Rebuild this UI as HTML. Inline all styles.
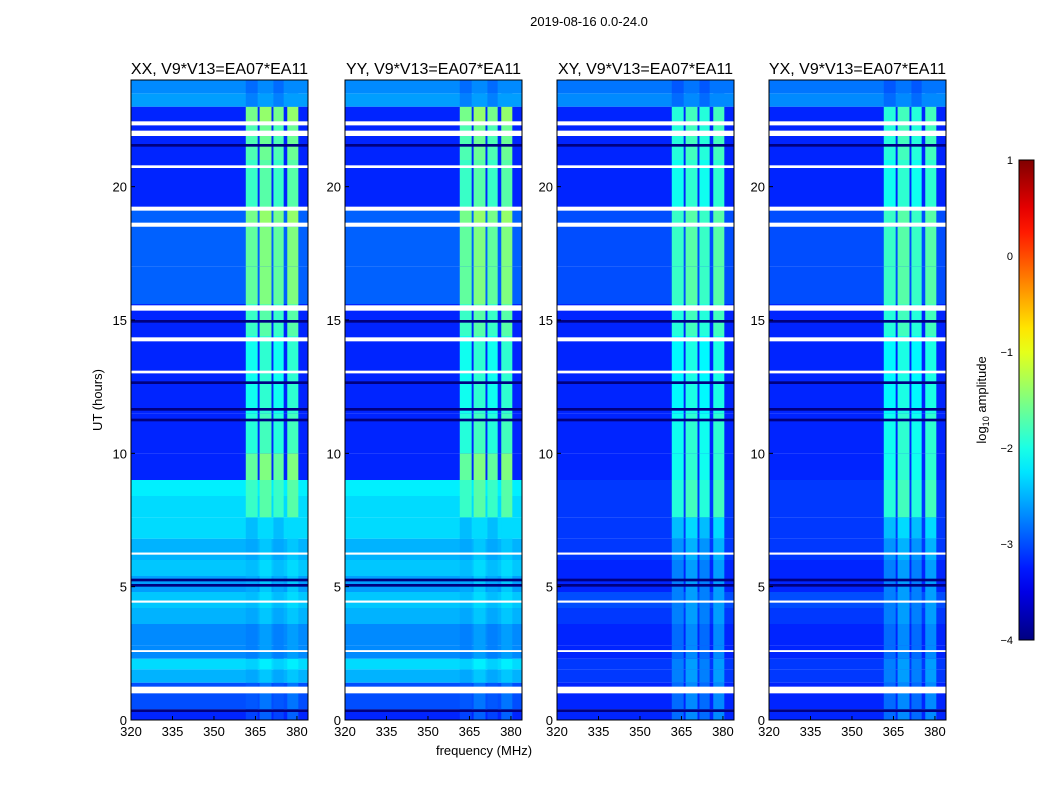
<!DOCTYPE html>
<html><head><meta charset="utf-8"><style>
body{margin:0;background:#fff;font-family:"Liberation Sans",sans-serif}
svg text{font-family:"Liberation Sans",sans-serif}
</style></head><body>
<svg id="c" width="1050" height="800" xmlns="http://www.w3.org/2000/svg">
<text x="589" y="26" font-size="13" text-anchor="middle">2019-08-16 0.0-24.0</text>
<text x="484" y="755" font-size="13" text-anchor="middle">frequency (MHz)</text>
<text transform="translate(102,400) rotate(-90)" font-size="13" text-anchor="middle">UT (hours)</text>
</svg>
<script>
// time segments (hours) and log10 amplitudes
const segStart = [0, 0.4, 1.4, 1.9, 2.3, 2.8, 3.6, 4.2, 4.8, 5.4, 6.0, 6.8, 7.6, 8.4, 9.0, 10.0, 11.5, 13.0, 14.4, 15.6, 17.0, 18.5, 19.2, 21.0, 22.3, 23.0, 23.5];
const segEnd   = [0.4, 1.4, 1.9, 2.3, 2.8, 3.6, 4.2, 4.8, 5.4, 6.0, 6.8, 7.6, 8.4, 9.0, 10.0, 11.5, 13.0, 14.4, 15.6, 17.0, 18.5, 19.2, 21.0, 22.3, 23.0, 23.5, 24.0];
const parBase  = [-3.2, -3.0, -2.5, -2.3, -2.7, -2.7, -2.5, -2.4, -2.6, -2.4, -2.5, -2.3, -2.3, -2.2, -3.2, -3.2, -3.2, -3.2, -3.2, -2.9, -2.9, -2.9, -3.2, -3.2, -3.2, -2.6, -2.7];
const crossBase= [-3.2, -3.2, -3.1, -3.1, -3.2, -3.2, -3.1, -3.0, -3.2, -3.2, -3.1, -3.1, -3.1, -3.1, -3.2, -3.2, -3.2, -3.2, -3.2, -3.0, -3.0, -3.0, -3.2, -3.2, -3.2, -2.7, -2.8];
const rfiPar   = [-2.9, -2.8, -2.4, -2.2, -2.6, -2.6, -2.4, -2.3, -2.4, -2.3, -2.4, -2.3, -1.7, -1.7, -1.5, -1.8, -1.9, -1.9, -1.7, -1.5, -1.5, -1.4, -1.7, -1.6, -1.4, -2.6, -2.7];
const rfiCross = [-2.7, -2.7, -2.6, -2.6, -2.7, -2.7, -2.6, -2.6, -2.6, -2.6, -2.5, -2.3, -1.8, -1.8, -1.9, -1.9, -2.0, -2.0, -1.8, -1.7, -1.7, -1.7, -1.9, -1.8, -1.8, -2.7, -2.8];
// flagged (white) time ranges
const flagStart = [1.0, 2.55, 4.4, 6.2, 13.0, 14.2, 15.35, 18.5, 19.1, 20.7, 21.9, 22.3];
const flagEnd   = [1.25, 2.62, 4.48, 6.28, 13.1, 14.35, 15.55, 18.65, 19.25, 20.8, 22.1, 22.45];
// dark (zero-ish) flagged rows
const darkStart = [0.3, 5.0, 5.2, 11.2, 11.6, 12.6, 14.9, 21.5];
const darkEnd   = [0.4, 5.1, 5.3, 11.3, 11.7, 12.7, 15.0, 21.6];
// RFI sub-band frequency ranges (MHz)
const bandLo = [361.5, 366.5, 371.5, 376.5];
const bandHi = [365.8, 370.8, 375.2, 380.5];
const titles = ["XX, V9*V13=EA07*EA11","YY, V9*V13=EA07*EA11","XY, V9*V13=EA07*EA11","YX, V9*V13=EA07*EA11"];
const xTicks = [320, 335, 350, 365, 380];
const yTicks = [0, 5, 10, 15, 20];
const cbTicks = [1, 0, -1, -2, -3, -4];

const NS="http://www.w3.org/2000/svg", svg=document.getElementById('c');
const panelL=[131,345,557,769], PW=177, PT=80, PB=720;
function jet(v){ // v in [-4,1]
  let t=Math.max(0,Math.min(1,(v+4)/5));
  const r=Math.max(0,Math.min(1,1.5-Math.abs(4*t-3))),g=Math.max(0,Math.min(1,1.5-Math.abs(4*t-2))),b=Math.max(0,Math.min(1,1.5-Math.abs(4*t-1)));
  return `rgb(${Math.round(r*255)},${Math.round(g*255)},${Math.round(b*255)})`;}
function el(t,a,p){const e=document.createElementNS(NS,t);for(const k in a)e.setAttribute(k,a[k]);(p||svg).appendChild(e);return e;}
const yS=h=>PB-(h/24)*(PB-PT);
for(let p=0;p<4;p++){
  const L=panelL[p], xS=f=>L+(f-320)*(PW/64);
  const g=el('g',{});
  
  
  const base=p<2?parBase:crossBase, rfi=p<2?rfiPar:rfiCross;
  for(let i=0;i<segStart.length;i++){
    const r=el('rect',{x:L,y:yS(segEnd[i]),width:PW,height:yS(segStart[i])-yS(segEnd[i]),fill:jet(base[i])},g);
    
    
    for(let b=0;b<bandLo.length;b++){
      const c=el('rect',{x:xS(bandLo[b]),y:yS(segEnd[i]),width:xS(bandHi[b])-xS(bandLo[b]),height:yS(segStart[i])-yS(segEnd[i]),fill:jet(rfi[i]-(b%2?0:0.15))},g);
      
      
    }
  }
  for(let i=0;i<darkStart.length;i++){
    const d=el('rect',{x:L,y:yS(darkEnd[i]),width:PW,height:yS(darkStart[i])-yS(darkEnd[i]),fill:'#000080'},g);
    
    
  }
  for(let i=0;i<flagStart.length;i++){
    const w=el('rect',{x:L,y:yS(flagEnd[i]),width:PW,height:yS(flagStart[i])-yS(flagEnd[i]),fill:'#fff'},g);
    
    
  }
  el('rect',{x:L,y:PT,width:PW,height:PB-PT,fill:'none',stroke:'#000','stroke-width':1},g);
  const t=el('text',{x:L+PW/2,y:PT-6,'font-size':16,'text-anchor':'middle'},g);t.textContent=titles[p];
  
  
  xTicks.forEach(v=>{const x=xS(v);el('line',{x1:x,x2:x,y1:PB,y2:PB-4,stroke:'#000'},g);
    const tx=el('text',{x:x,y:PB+16,'font-size':13,'text-anchor':'middle'},g);tx.textContent=v;
    
    });
  yTicks.forEach(v=>{const y=yS(v);el('line',{x1:L,x2:L+4,y1:y,y2:y,stroke:'#000'},g);
    const ty=el('text',{x:L-4,y:y+5,'font-size':13,'text-anchor':'end'},g);ty.textContent=v;
    
    });
}
// colorbar
const defs=el('defs',{});const lg=el('linearGradient',{id:'jg',x1:0,y1:1,x2:0,y2:0},defs);
for(let i=0;i<=20;i++){el('stop',{offset:i/20,'stop-color':jet(-4+5*i/20)},lg);}
const cb=el('rect',{x:1019,y:160,width:15,height:480,fill:'url(#jg)',stroke:'#000'});


cbTicks.forEach(v=>{const y=640-(v+4)/5*480;
  const t=el('text',{x:1013,y:y+4,'font-size':11,'text-anchor':'end'});t.textContent=(v<0?'\u2212':'')+Math.abs(v);
  
  });
const cl=el('text',{transform:'translate(986,400) rotate(-90)','font-size':13,'text-anchor':'middle'});
cl.innerHTML='log<tspan font-size="9" dy="3">10</tspan><tspan dy="-3"> amplitude</tspan>';


</script>
</body></html>
